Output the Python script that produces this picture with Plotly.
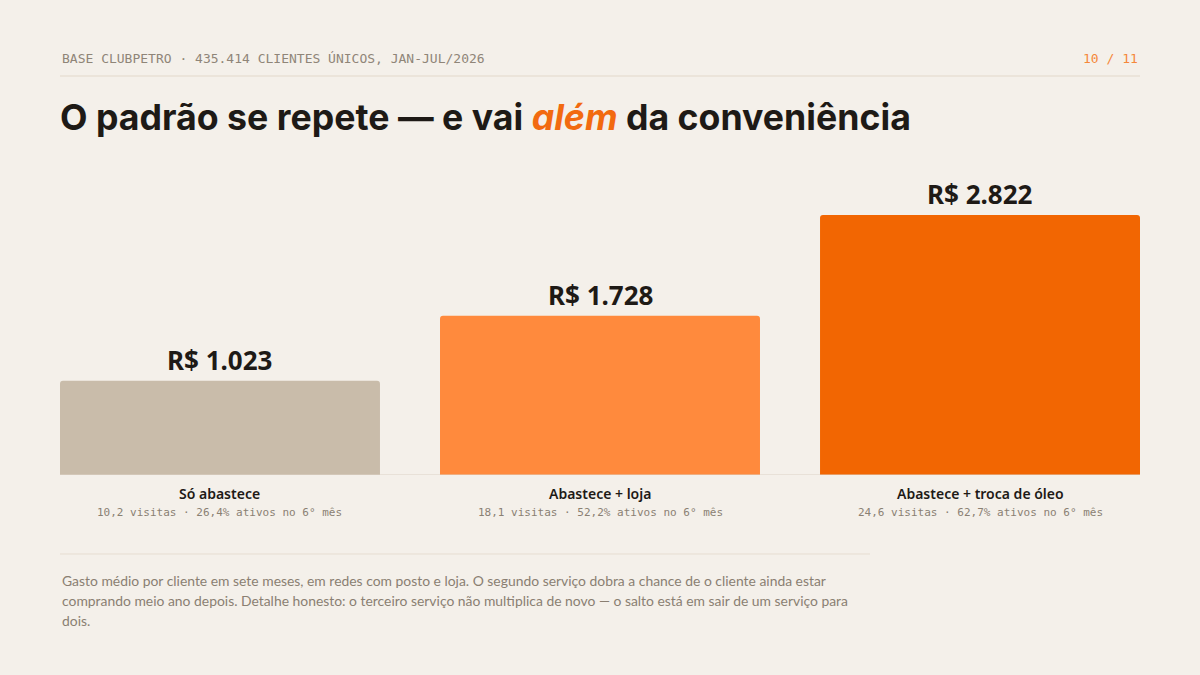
import plotly.graph_objects as go

categories = ["Só abastece", "Abastece + loja", "Abastece + troca de óleo"]
values = [1023, 1728, 2822]
subtitles = [
    "10,2 visitas · 26,4% ativos no 6° mês",
    "18,1 visitas · 52,2% ativos no 6° mês",
    "24,6 visitas · 62,7% ativos no 6° mês",
]
bar_colors = ["#c9bcaa", "#ff8a3d", "#f26602"]

header_text = "BASE CLUBPETRO · 435.414 CLIENTES ÚNICOS, JAN-JUL/2026"
page_text = "10 / 11"
title_text = "O padrão se repete — e vai <i><span style='color:#f26a10'>além</span></i> da conveniência"
note_lines = [
    "Gasto médio por cliente em sete meses, em redes com posto e loja. O segundo serviço dobra a chance de o cliente ainda estar",
    "comprando meio ano depois. Detalhe honesto: o terceiro serviço não multiplica de novo — o salto está em sair de um serviço para",
    "dois.",
]

W, H = 1200, 675
BG = "#f4f0ea"
DARK = "#1e1a16"

def px(x):
    return x / W

def py(y):
    return 1 - y / H

fig = go.Figure()
fig.add_trace(go.Bar(
    x=categories, y=values,
    marker=dict(color=bar_colors, line=dict(width=0)),
    width=0.842,
    hoverinfo="skip",
))

annotations = []
for c, v in zip(categories, values):
    annotations.append(dict(
        x=c, y=v, xref="x", yref="y", text=f"R$ {v:,}".replace(",", "."),
        showarrow=False, yanchor="bottom", yshift=1,
        font=dict(family="Noto Sans", size=26, color=DARK, weight=700),
    ))
for c, s in zip(categories, subtitles):
    annotations.append(dict(
        x=c, y=py(493), xref="x", yref="paper", text=c, showarrow=False,
        yanchor="middle", font=dict(family="Noto Sans", size=14, color=DARK, weight=600),
    ))
    annotations.append(dict(
        x=c, y=py(512), xref="x", yref="paper", text=s, showarrow=False,
        yanchor="middle", font=dict(family="DejaVu Sans Mono", size=11, color="#8a8073"),
    ))

annotations += [
    dict(x=px(60), y=py(59), xref="paper", yref="paper", text=header_text, showarrow=False,
         xanchor="left", yanchor="middle",
         font=dict(family="DejaVu Sans Mono", size=13, color="#8f8578")),
    dict(x=px(1140), y=py(59), xref="paper", yref="paper", text=page_text, showarrow=False,
         xanchor="right", yanchor="middle",
         font=dict(family="DejaVu Sans Mono", size=13, color="#f5883a")),
    dict(x=px(58), y=py(117), xref="paper", yref="paper", text=title_text, showarrow=False,
         xanchor="left", yanchor="middle",
         font=dict(family="Inter", size=35.7, color=DARK, weight=700)),
]
for i, line in enumerate(note_lines):
    annotations.append(dict(
        x=px(60), y=py(580 + 20 * i), xref="paper", yref="paper", text=line, showarrow=False,
        xanchor="left", yanchor="middle", align="left",
        font=dict(family="Lato", size=13.9, color="#8a7f72"),
    ))

shapes = [
    dict(type="line", xref="paper", yref="paper", x0=px(60), x1=px(1140), y0=py(76), y1=py(76),
         line=dict(color="#e2d8ca", width=1)),
    dict(type="line", xref="paper", yref="y", x0=px(60), x1=px(1140), y0=0, y1=0,
         line=dict(color="#ddd3c6", width=1)),
    dict(type="line", xref="paper", yref="paper", x0=px(60), x1=px(870), y0=py(554), y1=py(554),
         line=dict(color="#e6ddd1", width=1)),
]

fig.update_layout(
    width=W, height=H,
    paper_bgcolor=BG, plot_bgcolor=BG,
    margin=dict(l=0, r=0, t=0, b=0),
    showlegend=False,
    barcornerradius=3,
    xaxis=dict(domain=[px(60), px(1140)], range=[-0.421, 2.421], showticklabels=False,
               showgrid=False, zeroline=False, showline=False, ticks="", fixedrange=True),
    yaxis=dict(domain=[py(475), py(175)], range=[0, 3256], showticklabels=False,
               showgrid=False, zeroline=False, showline=False, fixedrange=True),
    annotations=annotations,
    shapes=shapes,
)

fig.write_html("out.html", config={"displayModeBar": False},
               post_script="document.body.style.margin='0';document.body.style.background='#f4f0ea';")
